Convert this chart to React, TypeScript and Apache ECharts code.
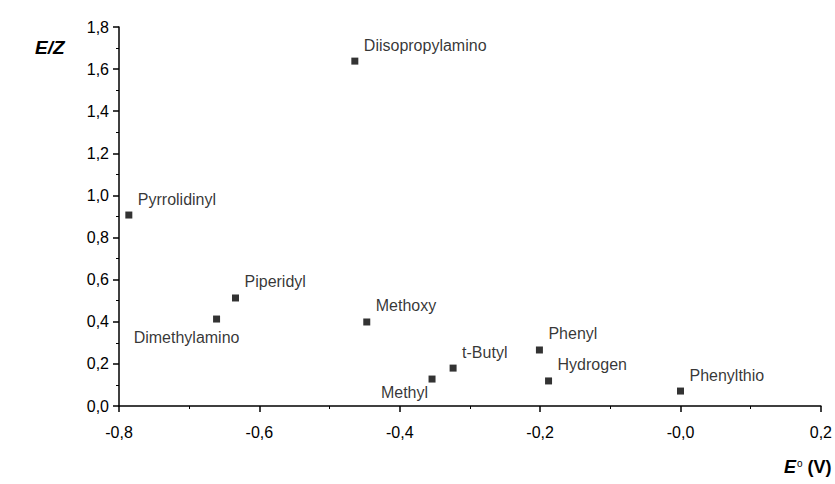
import React, { useEffect, useRef } from "react";
import * as echarts from "echarts";

const names = [
  "Diisopropylamino",
  "Pyrrolidinyl",
  "Piperidyl",
  "Dimethylamino",
  "Methoxy",
  "t-Butyl",
  "Methyl",
  "Phenyl",
  "Hydrogen",
  "Phenylthio",
];
const eValues = [-0.464, -0.786, -0.634, -0.661, -0.447, -0.324, -0.354, -0.201, -0.188, 0.0];
const ezValues = [1.638, 0.907, 0.513, 0.413, 0.399, 0.18, 0.128, 0.266, 0.119, 0.071];

const xTicks = [-0.8, -0.6, -0.4, -0.2, 0.0, 0.2];
const xTickLabels = ["-0,8", "-0,6", "-0,4", "-0,2", "-0,0", "0,2"];
const yTickLabels = ["0,0", "0,2", "0,4", "0,6", "0,8", "1,0", "1,2", "1,4", "1,6", "1,8"];

// label placement (style): [align, dx, dy]
const labelPlacement: Record<string, [string, number, number]> = {
  Dimethylamino: ["center", -30, 18],
  Methyl: ["right", -4, 13],
};

const FONT = "'Liberation Sans', Arial, Helvetica, sans-serif";

export default function App() {
  const ref = useRef<HTMLDivElement>(null);
  useEffect(() => {
    if (!ref.current) return;
    const chart = echarts.init(ref.current, undefined, { renderer: "svg" });
    const data = names.map((n, i) => {
      const p = labelPlacement[n] || ["left", 9, -16];
      return {
        name: n,
        value: [eValues[i], ezValues[i]],
        label: {
          show: true,
          position: "inside",
          align: p[0],
          verticalAlign: "middle",
          offset: [p[1], p[2]],
          formatter: n,
        },
      };
    });
    const xLabel = (v: number) => {
      const idx = xTicks.findIndex((t) => Math.abs(t - v) < 1e-6);
      return idx >= 0 ? xTickLabels[idx] : "";
    };
    const yLabel = (v: number) => {
      const idx = Math.round(v / 0.2);
      return yTickLabels[idx] ?? "";
    };
    chart.setOption({
      animation: false,
      backgroundColor: "#ffffff",
      grid: { left: 119, right: 10, top: 27, bottom: 78 },
      xAxis: {
        type: "value",
        min: -0.8,
        max: 0.2,
        interval: 0.2,
        axisLine: { show: true, onZero: false, lineStyle: { color: "#000", width: 1.5 } },
        axisTick: { show: true, inside: false, length: 6, lineStyle: { color: "#000", width: 1.5 } },
        minorTick: { show: true, splitNumber: 2, length: 3, lineStyle: { color: "#000", width: 1 } },
        splitLine: { show: false },
        axisLabel: {
          color: "#000",
          fontSize: 16,
          fontFamily: FONT,
          margin: 18,
          formatter: xLabel,
        },
      },
      yAxis: {
        type: "value",
        min: 0,
        max: 1.8,
        interval: 0.2,
        axisLine: { show: true, onZero: false, lineStyle: { color: "#000", width: 1.5 } },
        axisTick: { show: true, inside: false, length: 6, lineStyle: { color: "#000", width: 1.5 } },
        minorTick: { show: true, splitNumber: 2, length: 3, lineStyle: { color: "#000", width: 1 } },
        splitLine: { show: false },
        axisLabel: {
          color: "#000",
          fontSize: 16,
          fontFamily: FONT,
          margin: 10,
          formatter: yLabel,
        },
      },
      series: [
        {
          type: "scatter",
          symbol: "rect",
          symbolSize: 7,
          itemStyle: { color: "#000" },
          label: {
            color: "#000",
            fontSize: 16,
            fontFamily: FONT,
          },
          data,
        },
      ],
      graphic: [
        {
          type: "text",
          left: 35,
          top: 38,
          style: {
            text: "E/Z",
            font: `italic bold 19px ${FONT}`,
            fill: "#000",
          },
        },
        {
          type: "text",
          left: 784,
          top: 458,
          style: {
            text: "{e|E}{d|o}{v| (V)}",
            fill: "#000",
            rich: {
              e: { fontFamily: FONT, fontSize: 18, fontWeight: "bold", fontStyle: "italic", fill: "#000" },
              d: { fontFamily: FONT, fontSize: 10, fill: "#000", verticalAlign: "top", padding: [0, 0, 8, 1] },
              v: { fontFamily: FONT, fontSize: 18, fontWeight: "bold", fill: "#000" },
            },
          },
        },
      ],
    });
    return () => chart.dispose();
  }, []);
  return <div ref={ref} style={{ position: "fixed", left: 0, top: 0, width: 835, height: 484 }} />;
}
